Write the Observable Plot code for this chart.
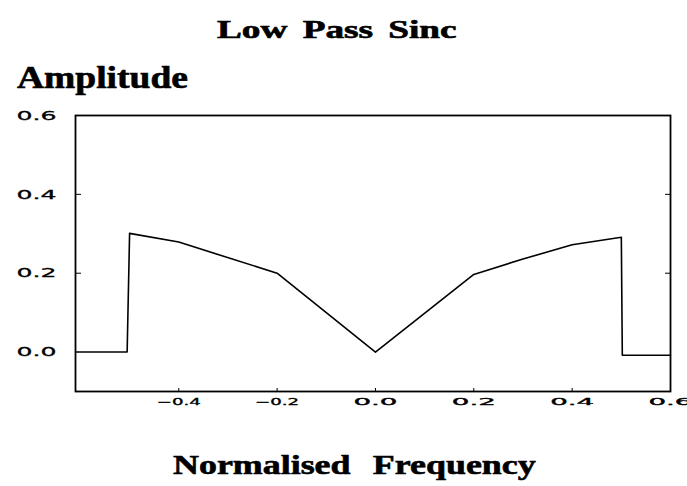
<!DOCTYPE html>
<html>
<head>
<meta charset="utf-8">
<script src="https://cdn.jsdelivr.net/npm/d3@7"></script>
<script src="https://cdn.jsdelivr.net/npm/@observablehq/plot@0.6"></script>
<style>
  html, body { margin: 0; padding: 0; background: #fff; }
  #wrap { position: relative; width: 687px; height: 486px; overflow: hidden; }
  .ttl { position: absolute; font-family: "Liberation Serif", "Times New Roman", serif; font-weight: bold; color: #000; white-space: pre; line-height: 1; transform-origin: 0 0; -webkit-text-stroke: 0.6px #000; }
</style>
</head>
<body>
<div id="wrap">
  <div class="ttl" id="title" style="left:217px; top:17px; font-size:25px; word-spacing:4px; transform:scaleX(1.49);">Low Pass Sinc</div>
  <div class="ttl" id="ylab" style="left:17px; top:62px; font-size:31px; transform:scaleX(1.21);">Amplitude</div>
  <div class="ttl" id="xlab" style="left:173px; top:452px; font-size:27px; word-spacing:10px; transform:scaleX(1.33);">Normalised Frequency</div>
</div>
<script>
// Data
const freq = [-0.61, -0.505, -0.5, -0.4, -0.2, 0.0, 0.2, 0.3, 0.4, 0.5, 0.502, 0.6];
const amp  = [0.0,   0.0,    0.301, 0.279, 0.200, 0.0, 0.197, 0.236, 0.272, 0.291, -0.008, -0.008];
const xTicks = [-0.4, -0.2, 0.0, 0.2, 0.4, 0.6];
const yTicks = [0.0, 0.2, 0.4, 0.6];
const yInnerTicks = [0.2, 0.4];
const xInnerTicks = [-0.4, -0.2, 0.0, 0.2, 0.4];

const data = freq.map((f, i) => ({f, a: amp[i]}));
const fmt = d3.format(".1f");

const plot = Plot.plot({
  width: 687,
  height: 486,
  marginLeft: 75,
  marginRight: 17,
  marginTop: 115,
  marginBottom: 95,
  style: {fontFamily: "DejaVu Sans", background: "white", color: "black"},
  x: {domain: [-0.61, 0.6]},
  y: {domain: [-0.1, 0.6]},
  marks: [
    Plot.frame({stroke: "black", strokeWidth: 1.8}),
    Plot.axisY(yTicks, {anchor: "left", tickSize: 0, tickPadding: 19, tickFormat: fmt, label: null, fill: "black", fontSize: 13}),
    Plot.axisY(yInnerTicks, {anchor: "left", tickSize: 6, dx: 6, tickFormat: () => "", label: null, stroke: "black"}),
    Plot.axisY(yInnerTicks, {anchor: "right", tickSize: 6, dx: -6, tickFormat: () => "", label: null, stroke: "black"}),
    Plot.axisX(xTicks, {anchor: "bottom", tickSize: 0, tickPadding: 7, tickFormat: fmt, label: null, fill: "black", fontSize: 9}),
    Plot.axisX(xInnerTicks, {anchor: "bottom", tickSize: 3, dy: -3, tickFormat: () => "", label: null, stroke: "black"}),
    Plot.line(data, {x: "f", y: "a", stroke: "black", strokeWidth: 1.6, curve: "linear"})
  ]
});

// Wide plotter-style tick labels: stretch glyphs with textLength (positions untouched)
d3.select(plot).selectAll('g[aria-label="y-axis tick label"] text')
  .attr("font-size", 13).attr("textLength", 40).attr("lengthAdjust", "spacingAndGlyphs")
  .attr("stroke", "black").attr("stroke-width", 0.3);
d3.select(plot).selectAll('g[aria-label="x-axis tick label"] text')
  .attr("font-size", 9).attr("textLength", 44).attr("lengthAdjust", "spacingAndGlyphs")
  .attr("stroke", "black").attr("stroke-width", 0.3);

plot.style.position = "absolute";
plot.style.left = "0";
plot.style.top = "0";
document.getElementById("wrap").prepend(plot);
</script>
</body>
</html>
